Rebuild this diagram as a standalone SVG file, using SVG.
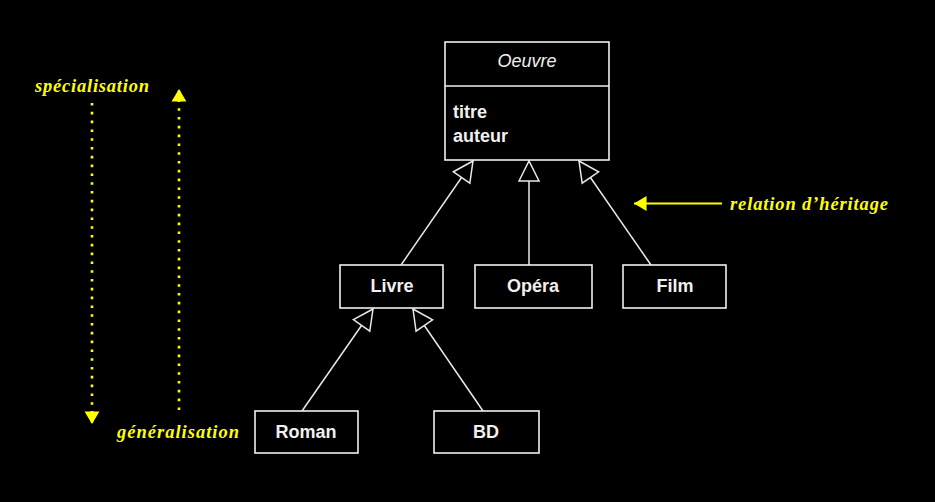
<svg xmlns="http://www.w3.org/2000/svg" width="935" height="502" viewBox="0 0 935 502">
<defs>
<style>
.box{fill:#000;stroke:#f0f0f0;stroke-width:1.6}
.lbl{font-family:"Liberation Sans",Arial,sans-serif;font-size:18px;font-weight:bold;fill:#f0f0f0}
.ital{font-family:"Liberation Sans",Arial,sans-serif;font-size:18px;font-style:italic;fill:#f0f0f0}
.note{font-family:"Liberation Serif","Times New Roman",serif;font-size:18.5px;font-weight:bold;font-style:italic;fill:#ffff00}
.inh{stroke:#e8e8e8;stroke-width:1.5;fill:none}
.dot{stroke:#ffff00;stroke-width:2.6;stroke-dasharray:2.6 6.2;fill:none}
.yl{stroke:#ffff00;stroke-width:1.8;fill:none}
</style>
<marker id="tri" markerUnits="userSpaceOnUse" markerWidth="24" markerHeight="24" viewBox="-2 -12 24 24" refX="20" refY="0" orient="auto">
<path d="M0,-10 L20,0 L0,10 Z" fill="#000" stroke="#e8e8e8" stroke-width="1.5"/>
</marker>
<marker id="ya" markerUnits="userSpaceOnUse" markerWidth="14" markerHeight="16" viewBox="0 -7 12 14" refX="11" refY="0" orient="auto">
<path d="M0,-6.5 L11,0 L0,6.5 Z" fill="#ffff00"/>
</marker>
</defs>
<rect width="935" height="502" fill="#000"/>

<g id="connectors">
<line class="inh" x1="401" y1="265" x2="473" y2="161" marker-end="url(#tri)"/>
<line class="inh" x1="529" y1="265" x2="529" y2="161" marker-end="url(#tri)"/>
<line class="inh" x1="651" y1="265" x2="579" y2="161" marker-end="url(#tri)"/>
<line class="inh" x1="302" y1="411" x2="373" y2="309" marker-end="url(#tri)"/>
<line class="inh" x1="483" y1="411" x2="413" y2="309" marker-end="url(#tri)"/>
<line class="yl" x1="722" y1="203.5" x2="634" y2="203.5" marker-end="url(#ya)"/>
<line class="dot" x1="92" y1="103" x2="92" y2="424" marker-end="url(#ya)"/>
<line class="dot" x1="179" y1="410" x2="179" y2="89" marker-end="url(#ya)"/>
</g>

<g id="oeuvre">
<rect class="box" x="445" y="42" width="164" height="118"/>
<line x1="445" y1="86" x2="609" y2="86" stroke="#f0f0f0" stroke-width="1.6"/>
<text class="ital" x="527" y="67" text-anchor="middle">Oeuvre</text>
<text class="lbl" x="453" y="118">titre</text>
<text class="lbl" x="453" y="142">auteur</text>
</g>
<g id="livre">
<rect class="box" x="340" y="265" width="103" height="43"/>
<text class="lbl" x="392" y="292" text-anchor="middle">Livre</text>
</g>
<g id="opera">
<rect class="box" x="475" y="265" width="117" height="43"/>
<text class="lbl" x="533" y="292" text-anchor="middle">Opéra</text>
</g>
<g id="film">
<rect class="box" x="623" y="265" width="103" height="43"/>
<text class="lbl" x="675" y="292" text-anchor="middle">Film</text>
</g>
<g id="roman">
<rect class="box" x="255" y="411" width="103" height="42"/>
<text class="lbl" x="306" y="438" text-anchor="middle">Roman</text>
</g>
<g id="bd">
<rect class="box" x="434" y="411" width="105" height="42"/>
<text class="lbl" x="486" y="438" text-anchor="middle">BD</text>
</g>

<g id="notes">
<text class="note" x="35" y="92" textLength="114" lengthAdjust="spacing">spécialisation</text>
<text class="note" x="117" y="438" textLength="122" lengthAdjust="spacing">généralisation</text>
<text class="note" x="730" y="210" textLength="158" lengthAdjust="spacing">relation d’héritage</text>
</g>
</svg>
